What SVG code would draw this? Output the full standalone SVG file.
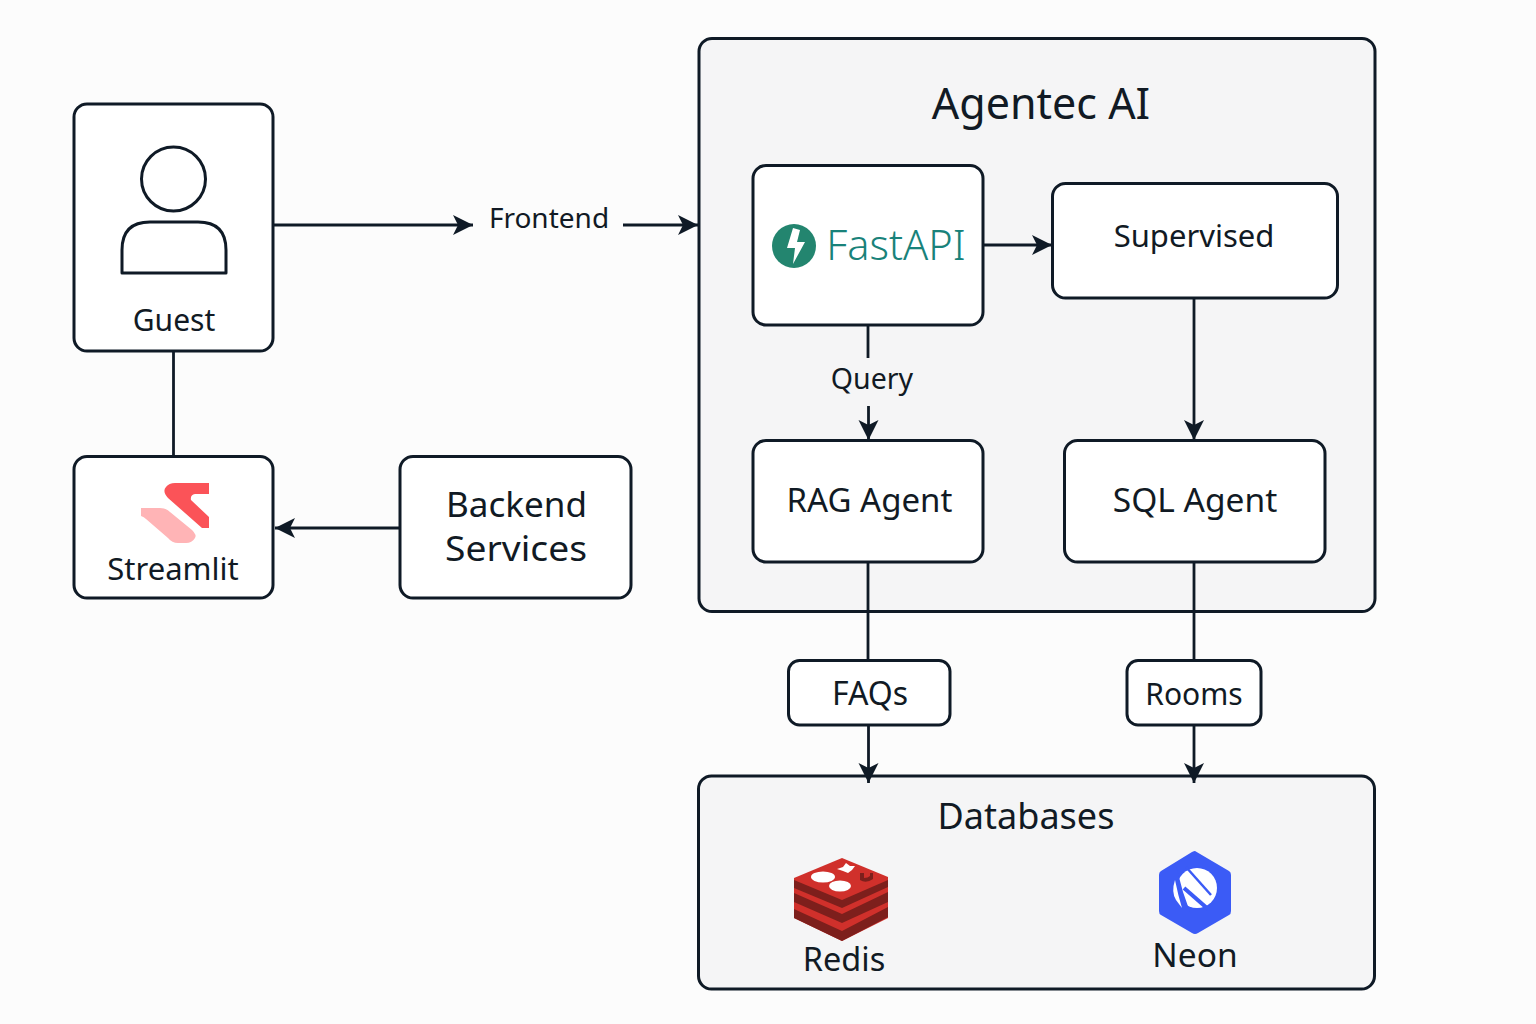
<svg xmlns="http://www.w3.org/2000/svg" width="1536" height="1024" viewBox="0 0 1536 1024">
<style>
.box{fill:#fff;stroke:#0f1a26;stroke-width:3}
.panel{fill:#f5f5f6;stroke:#0f1a26;stroke-width:3}
.conn{fill:none;stroke:#0f1a26;stroke-width:2.8}
.dark{fill:#7d1f1c}
text{font-family:"Noto Sans","Open Sans",sans-serif;fill:#111a24;text-anchor:middle}
</style>
<defs>
<marker id="arrow" markerUnits="userSpaceOnUse" markerWidth="22" markerHeight="22" refX="20" refY="10" orient="auto">
<path d="M0 0L20 10L0 20L5 10Z" fill="#0f1a26"/>
</marker>
</defs>
<rect width="1536" height="1024" fill="#fcfcfc"/>
<g id="agentec-ai"><rect class="panel" x="699" y="38.500" width="676" height="573" rx="13"/><text x="1041" y="119" style="font-size:43px">Agentec AI</text></g>
<g id="databases"><rect class="panel" x="698.500" y="776" width="676" height="213" rx="13"/><text x="1026" y="829" style="font-size:36px">Databases</text></g>
<g id="connectors">
<path class="conn" d="M273 225H473" marker-end="url(#arrow)"/>
<path class="conn" d="M623 225H698" marker-end="url(#arrow)"/>
<path class="conn" d="M983 245H1052" marker-end="url(#arrow)"/>
<path class="conn" d="M868 325V358"/>
<path class="conn" d="M868.500 406V440" marker-end="url(#arrow)"/>
<path class="conn" d="M1194 298V440" marker-end="url(#arrow)"/>
<path class="conn" d="M173.500 351V456"/>
<path class="conn" d="M400 528H275" marker-end="url(#arrow)"/>
<path class="conn" d="M868 562V660"/>
<path class="conn" d="M1194 562V660"/>
<path class="conn" d="M868.500 725V783" marker-end="url(#arrow)"/>
<path class="conn" d="M1194 725V783" marker-end="url(#arrow)"/>
</g>
<g id="guest"><rect class="box" x="74" y="104" width="199" height="247" rx="13"/>
<circle cx="173.500" cy="179" r="32" fill="none" stroke="#0f1a26" stroke-width="3"/>
<path d="M122 273V250Q122 222 150 222H198Q226 222 226 250V273Z" fill="none" stroke="#0f1a26" stroke-width="3" stroke-linejoin="round"/>
<text x="174" y="331" style="font-size:30px">Guest</text></g>
<g id="frontend"><text x="549" y="228" style="font-size:28px">Frontend</text></g>
<g id="streamlit"><rect class="box" x="74" y="456.500" width="199" height="141.500" rx="13"/>
<path d="M175 483H209V494H195Q190 495 191 500L209 517V528H202L168 498Q162 491 166 487Q169 483 175 483Z" fill="#fb5358"/>
<path d="M141 508H160Q166 508 170 512L192 530Q197 535 195 538Q192 543 186 543H178Q172 543 168 538L146 519Q144 517 141 516Z" fill="#ffb4b6"/>
<text x="173" y="580" style="font-size:31px">Streamlit</text></g>
<g id="backend-services"><rect class="box" x="400" y="456.500" width="231" height="141.500" rx="13"/>
<text x="516.500" y="517" style="font-size:34px" textLength="141" lengthAdjust="spacingAndGlyphs">Backend</text><text x="516" y="561" style="font-size:34px" textLength="142" lengthAdjust="spacingAndGlyphs">Services</text></g>
<g id="fastapi"><rect class="box" x="753" y="165.500" width="230" height="159.500" rx="13"/>
<circle cx="794" cy="246" r="22" fill="#23856f"/>
<path d="M793 228L787 248H795L793 264L805 242H797L800 230Z" fill="#fff"/>
<text x="896" y="260" style="font-size:41.500px;font-weight:300;fill:#19827a">FastAPI</text></g>
<g id="supervised"><rect class="box" x="1052.500" y="183.500" width="285" height="114.500" rx="13"/><text x="1194" y="247" style="font-size:31px">Supervised</text></g>
<g id="query"><text x="872" y="389" style="font-size:28.500px">Query</text></g>
<g id="rag-agent"><rect class="box" x="753" y="440.500" width="230" height="121.500" rx="13"/><text x="869.500" y="512" style="font-size:33px">RAG Agent</text></g>
<g id="sql-agent"><rect class="box" x="1064.500" y="440.500" width="260.500" height="121.500" rx="13"/><text x="1195" y="512" style="font-size:33.500px">SQL Agent</text></g>
<g id="faqs"><rect class="box" x="788.500" y="660.500" width="161.500" height="64.500" rx="11"/><text x="870" y="705" style="font-size:32px">FAQs</text></g>
<g id="rooms"><rect class="box" x="1127" y="660.500" width="134" height="64.500" rx="11"/><text x="1194" y="705" style="font-size:30px">Rooms</text></g>
<g id="redis">
<path d="M794 878L842 858L888 877V918L842 941L794 918Z" fill="#d0302b"/>
<path class="dark" d="M794 880L842 900L888 880V887L842 908L794 888Z"/>
<path class="dark" d="M794 893L842 914L888 892V902L842 923L794 902Z"/>
<path class="dark" d="M794 909L842 931L888 907V917L842 941L794 918Z"/>
<ellipse cx="823" cy="877" rx="12" ry="5.500" fill="#fff"/>
<ellipse cx="840" cy="886" rx="11" ry="5.500" fill="#fff"/>
<path d="M837 869L843 867L846 863L850 866L855 866L852 870L848 873L843 871Z" fill="#fff"/>
<path d="M860 873H864V878Q868 878 870 876V873H873V879Q866 884 860 880Z" class="dark"/>
<text x="844" y="971" style="font-size:32.500px">Redis</text></g>
<g id="neon">
<path d="M1195 851L1229 871Q1231 872 1231 875V911Q1231 914 1229 915L1198 933Q1195 935 1192 933L1161 915Q1159 914 1159 911V875Q1159 872 1161 871L1192 852Q1194 851 1195 851Z" fill="#3b5bf6"/>
<circle cx="1197" cy="888" r="20" fill="#fff"/>
<path d="M1176 866L1183 892L1190 912L1172 912L1172 866Z" fill="#3b5bf6"/>
<path d="M1186 867L1211 895" stroke="#3b5bf6" stroke-width="2.500" fill="none"/>
<path d="M1184 888L1208 909" stroke="#3b5bf6" stroke-width="4" fill="none"/>
<path d="M1175 880Q1171 892 1176 900L1182 908Q1178 895 1175 880Z" fill="#fff"/>
<text x="1195" y="967" style="font-size:33.500px">Neon</text></g>
</svg>
